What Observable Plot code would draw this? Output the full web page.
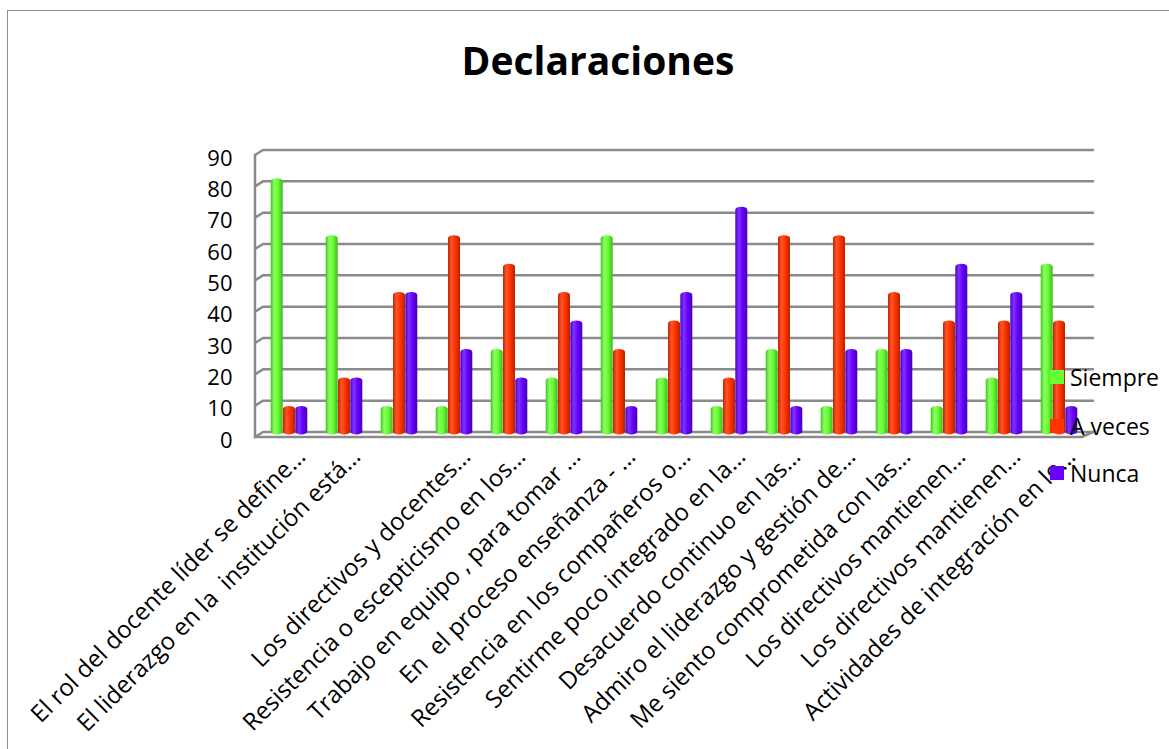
<!DOCTYPE html>
<html>
<head>
<meta charset="utf-8">
<script src="https://cdn.jsdelivr.net/npm/d3@7"></script>
<script src="https://cdn.jsdelivr.net/npm/@observablehq/plot@0.6"></script>
<style>
  body { margin: 0; background: #fff; font-family: "Open Sans", sans-serif; }
  #page { position: relative; width: 1169px; height: 749px; overflow: hidden; background: #fff; }
  #frame { position: absolute; left: 7px; top: 10px; width: 1200px; height: 800px; border: 1.5px solid #8f8f8f; box-sizing: border-box; }
  #chart { position: absolute; left: 0; top: 0; }
  #chart svg text { white-space: pre; }
  #title { position: absolute; left: 0; top: 40px; width: 1196px; text-align: center; font-size: 39px; line-height: 39px; font-weight: 700; color: #000; }
  .legend-item { position: absolute; left: 1050px; height: 24px; display: flex; align-items: center; font-size: 23px; color: #000; }
  .legend-item .sw { width: 14px; height: 14px; margin-right: 6px; flex: none; }
</style>
</head>
<body>
<div id="page">
  <div id="frame"></div>
  <div id="chart"></div>
  <div id="title">Declaraciones</div>
  <div id="legend"></div>
</div>
<script>
// Statements (category labels); the third one is shown without a label
const labels = [
  "El rol del docente líder se define…",
  "El liderazgo en la  institución está…",
  "",
  "Los directivos y docentes…",
  "Resistencia o escepticismo en los…",
  "Trabajo en equipo , para tomar …",
  "En  el proceso enseñanza - …",
  "Resistencia en los compañeros o…",
  "Sentirme poco integrado en la…",
  "Desacuerdo continuo en las…",
  "Admiro el liderazgo y gestión de…",
  "Me siento comprometida con las…",
  "Los directivos mantienen…",
  "Los directivos mantienen…",
  "Actividades de integración en lo…"
];

// Percentage of answers per statement
const siempre = [81.8, 63.6, 9.1, 9.1, 27.3, 18.2, 63.6, 18.2, 9.1, 27.3, 9.1, 27.3, 9.1, 18.2, 54.5];
const aVeces  = [9.1, 18.2, 45.5, 63.6, 54.5, 45.5, 27.3, 36.4, 18.2, 63.6, 63.6, 45.5, 36.4, 36.4, 36.4];
const nunca   = [9.1, 18.2, 45.5, 27.3, 18.2, 36.4, 9.1, 45.5, 72.7, 9.1, 27.3, 27.3, 54.5, 45.5, 9.1];

const seriesNames = ["Siempre", "A veces", "Nunca"];
const seriesColors = ["#66ff33", "#ff3300", "#6600ff"];
const yTicks = [0, 10, 20, 30, 40, 50, 60, 70, 80, 90];

const ns = "http://www.w3.org/2000/svg";
const el = (name, attrs) => {
  const e = document.createElementNS(ns, name);
  for (const k in attrs) e.setAttribute(k, attrs[k]);
  return e;
};

// Cylinder-like shading for each series
const gradientStops = [
  [["0%", "#3fc41c"], ["30%", "#8dff62"], ["60%", "#66ff33"], ["100%", "#41b81d"]],
  [["0%", "#c42400"], ["30%", "#ff5526"], ["60%", "#ff3300"], ["100%", "#b82200"]],
  [["0%", "#4a00c4"], ["30%", "#8033ff"], ["60%", "#6600ff"], ["100%", "#4700b8"]]
];
function gradients() {
  const defs = el("defs", {});
  gradientStops.forEach((stops, i) => {
    const g = el("linearGradient", {id: "cyl" + i, x1: "0", x2: "1", y1: "0", y2: "0"});
    for (const [o, c] of stops) g.appendChild(el("stop", {offset: o, "stop-color": c}));
    defs.appendChild(g);
  });
  return defs;
}

// Back wall gridlines with a slanted left edge and the floor of the 3-D box
const depthX = 8, depthY = 5;
function wall(index, scales, values, dims) {
  const y = scales.y;
  const left = dims.marginLeft, right = dims.width - dims.marginRight;
  const g = el("g", {stroke: "#8a8a8a", "stroke-width": 2.5, fill: "none", "stroke-linecap": "round"});
  for (const t of yTicks) {
    const yy = y(t);
    g.appendChild(el("path", {d: `M${left - depthX},${yy + depthY}L${left},${yy}L${right},${yy}`}));
  }
  const y0 = y(0), yTop = y(yTicks[yTicks.length - 1]);
  g.appendChild(el("path", {d: `M${left - depthX},${yTop + depthY}L${left - depthX},${y0 + depthY}L${right - depthX - 3},${y0 + depthY}L${right},${y0}`}));
  return g;
}

const rows = (vals) => vals.map((v, i) => ({i, v}));
const offsets = [-12.3, 0, 12.3];

const chart = Plot.plot({
  width: 1169,
  height: 749,
  marginLeft: 263,
  marginRight: 76,
  marginTop: 150,
  marginBottom: 317,
  style: {fontFamily: "Open Sans, sans-serif", color: "#000", background: "transparent"},
  x: {type: "band", domain: d3.range(labels.length), range: [261.5, 1087.5], paddingInner: 0.78, paddingOuter: 0.39},
  y: {domain: [0, 90]},
  marks: [
    gradients,
    wall,
    ...[siempre, aVeces, nunca].map((vals, s) =>
      Plot.barY(rows(vals), {
        x: "i", y: "v",
        fill: `url(#cyl${s})`,
        dx: offsets[s], dy: 2.5,
        rx: 6, ry: 3,
        insetLeft: 0, insetRight: 0
      })
    ),
    Plot.axisY({ticks: yTicks, tickSize: 0, tickPadding: 31, fontSize: 22, dy: 8, label: null}),
    Plot.axisX({tickFormat: (i) => labels[i], tickRotate: -45, tickSize: 0, tickPadding: 20, dx: 12, fontSize: 24, label: null})
  ]
});
document.getElementById("chart").appendChild(chart);

// Legend
const legendCenters = [377, 425.5, 473];
const legend = document.getElementById("legend");
seriesNames.forEach((name, s) => {
  const item = document.createElement("div");
  item.className = "legend-item";
  item.style.top = (legendCenters[s] - 12) + "px";
  const sw = document.createElement("span");
  sw.className = "sw";
  sw.style.background = seriesColors[s];
  const tx = document.createElement("span");
  tx.textContent = name;
  item.appendChild(sw);
  item.appendChild(tx);
  legend.appendChild(item);
});
</script>
</body>
</html>
